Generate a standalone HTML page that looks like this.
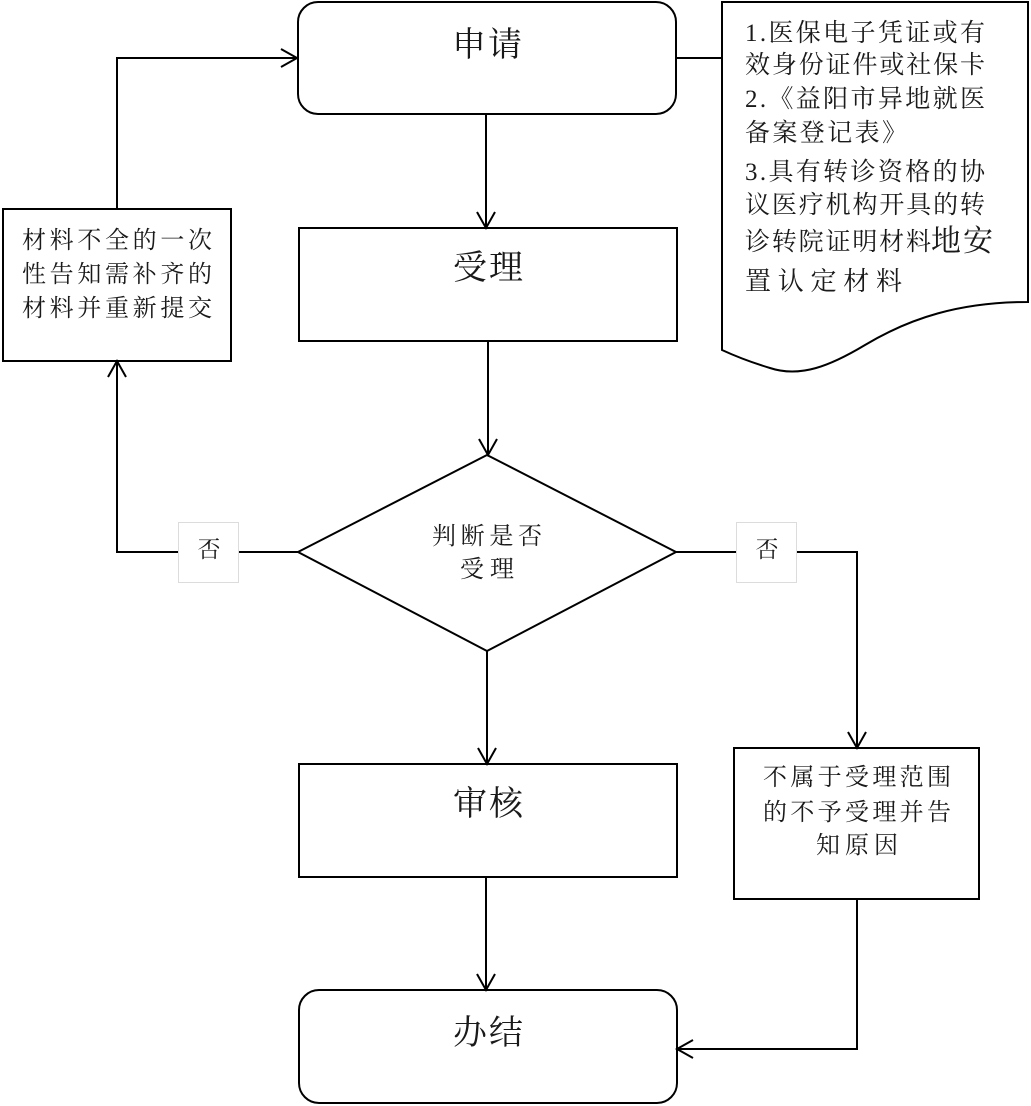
<!DOCTYPE html>
<html>
<head>
<meta charset="utf-8">
<style>
  html,body{margin:0;padding:0;background:#fff;}
  svg{display:block;}
  text{font-family:"Liberation Serif","Noto Serif CJK SC","Noto Sans CJK SC",serif;fill:#1a1a1a;}
</style>
</head>
<body>
<svg width="1031" height="1106" viewBox="0 0 1031 1106" xmlns="http://www.w3.org/2000/svg">
  <rect x="0" y="0" width="1031" height="1106" fill="#fff"/>

  <g fill="none" stroke="#000" stroke-width="2">
    <rect x="298" y="2" width="378" height="112" rx="20" ry="20" fill="#fff"/>
    <rect x="299" y="228" width="378" height="113" fill="#fff"/>
    <polygon points="487,455 676,552 487,651 298,552" fill="#fff"/>
    <rect x="299" y="764" width="378" height="113" fill="#fff"/>
    <rect x="299" y="990" width="378" height="113" rx="20" ry="20" fill="#fff"/>
    <rect x="3" y="209" width="228" height="152" fill="#fff"/>
    <rect x="734" y="748" width="245" height="151" fill="#fff"/>
    <path d="M722,2 H1028 V302 C960,302 910,318 865,345 C830,366 800,378 770,368 C750,362 735,356 722,350 Z" fill="#fff"/>

    <line x1="486" y1="114" x2="486" y2="228"/>
    <polyline points="477,212 486,228 495,212"/>
    <line x1="488" y1="341" x2="488" y2="455"/>
    <polyline points="479,439 488,455 497,439"/>
    <line x1="487" y1="651" x2="487" y2="764"/>
    <polyline points="478,748 487,764 496,748"/>
    <line x1="486" y1="877" x2="486" y2="990"/>
    <polyline points="477,974 486,990 495,974"/>

    <polyline points="298,552 117,552 117,361"/>
    <polyline points="108,377 117,361 126,377"/>
    <polyline points="117,209 117,58 297,58"/>
    <polyline points="281,49 297,58 281,67"/>

    <polyline points="676,552 857,552 857,748"/>
    <polyline points="848,732 857,748 866,732"/>
    <polyline points="857,899 857,1049 677,1049"/>
    <polyline points="693,1040 677,1049 693,1058"/>

    <line x1="676" y1="58" x2="722" y2="58"/>
  </g>

  <rect x="178.5" y="522.5" width="60" height="60" fill="#fff" stroke="#dcdcdc" stroke-width="1"/>
  <rect x="736.5" y="522.5" width="60" height="60" fill="#fff" stroke="#dcdcdc" stroke-width="1"/>
  <text x="209" y="557" font-size="23" text-anchor="middle">否</text>
  <text x="767" y="557" font-size="23" text-anchor="middle">否</text>

  <text x="487" y="56" font-size="34" text-anchor="middle" textLength="70" lengthAdjust="spacing">申请</text>
  <text x="488" y="279" font-size="34" text-anchor="middle" textLength="70" lengthAdjust="spacing">受理</text>
  <text x="488" y="815" font-size="34" text-anchor="middle" textLength="70" lengthAdjust="spacing">审核</text>
  <text x="488" y="1044" font-size="34" text-anchor="middle" textLength="70" lengthAdjust="spacing">办结</text>

  <text x="487" y="544" font-size="24" text-anchor="middle" textLength="110" lengthAdjust="spacing">判断是否</text>
  <text x="487" y="577" font-size="24" text-anchor="middle" textLength="54" lengthAdjust="spacing">受理</text>

  <text x="117" y="248" font-size="24" text-anchor="middle" textLength="190" lengthAdjust="spacing">材料不全的一次</text>
  <text x="117" y="282" font-size="24" text-anchor="middle" textLength="190" lengthAdjust="spacing">性告知需补齐的</text>
  <text x="117" y="316" font-size="24" text-anchor="middle" textLength="190" lengthAdjust="spacing">材料并重新提交</text>

  <text x="857" y="785" font-size="24" text-anchor="middle" textLength="188" lengthAdjust="spacing">不属于受理范围</text>
  <text x="857" y="820" font-size="24" text-anchor="middle" textLength="188" lengthAdjust="spacing">的不予受理并告</text>
  <text x="857" y="853" font-size="24" text-anchor="middle" textLength="82" lengthAdjust="spacing">知原因</text>

  <text x="745" y="41" font-size="25" textLength="240" lengthAdjust="spacing">1.医保电子凭证或有</text>
  <text x="745" y="73" font-size="25" textLength="240" lengthAdjust="spacing">效身份证件或社保卡</text>
  <text x="745" y="107" font-size="25" textLength="240" lengthAdjust="spacing">2.《益阳市异地就医</text>
  <text x="745" y="141" font-size="25" textLength="162" lengthAdjust="spacing">备案登记表》</text>
  <text x="745" y="180" font-size="25" textLength="240" lengthAdjust="spacing">3.具有转诊资格的协</text>
  <text x="745" y="213" font-size="25" textLength="240" lengthAdjust="spacing">议医疗机构开具的转</text>
  <text x="745" y="250" font-size="25" textLength="186" lengthAdjust="spacing">诊转院证明材料</text>
  <text x="931" y="251" font-size="30" textLength="62" lengthAdjust="spacing">地安</text>
  <text x="745" y="290" font-size="26" textLength="157" lengthAdjust="spacing">置认定材料</text>
</svg>
</body>
</html>
